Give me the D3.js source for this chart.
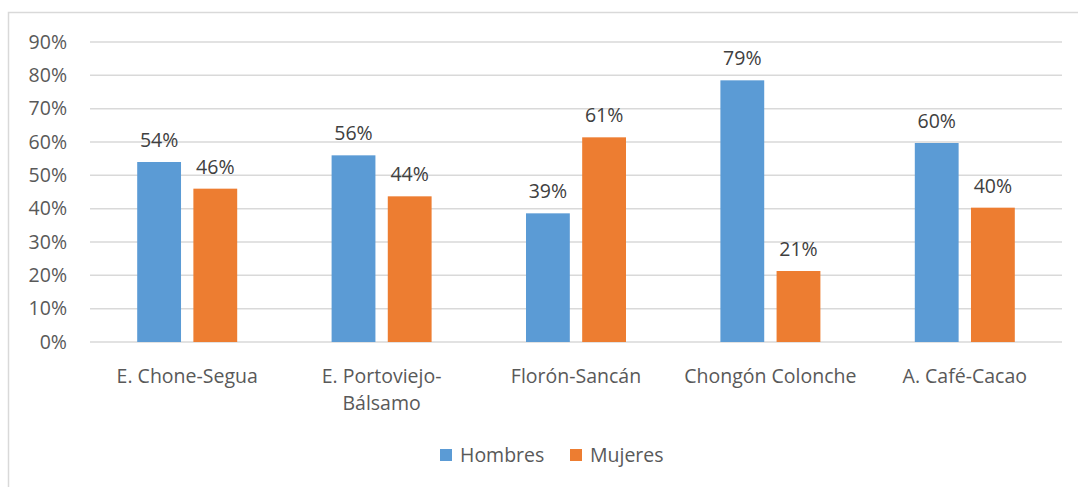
<!DOCTYPE html>
<html><head><meta charset="utf-8">
<script src="https://cdn.jsdelivr.net/npm/d3@7/dist/d3.min.js"></script>
<style>body{margin:0;background:#fff;}svg{display:block;font-family:"Open Sans",Calibri,sans-serif;}</style>
</head><body>
<svg id="c" width="1078" height="487"></svg>
<script>
const categories = [["E. Chone-Segua"],["E. Portoviejo-","Bálsamo"],["Florón-Sancán"],["Chongón Colonche"],["A. Café-Cacao"]];
const seriesNames = ["Hombres","Mujeres"];
const hombres = [0.54, 0.56, 0.386, 0.785, 0.597];
const mujeres = [0.46, 0.437, 0.614, 0.213, 0.403];
const hombresLabels = ["54%","56%","39%","79%","60%"];
const mujeresLabels = ["46%","44%","61%","21%","40%"];
const ticks = [0,0.1,0.2,0.3,0.4,0.5,0.6,0.7,0.8,0.9];
const colors = ["#5b9bd5","#ed7d31"];

(function(){
const FS = 19.5;
const svg = d3.select("#c");
svg.append("rect").attr("x",8.5).attr("y",12.5).attr("width",1100).attr("height",500)
  .attr("fill","#fff").attr("stroke","#d9d9d9").attr("stroke-width",1.5);

const pL=90,pR=1062,pT=42,pB=342;
const y = d3.scaleLinear().domain([0,0.9]).range([pB,pT]);
const x0 = d3.scaleBand().domain(d3.range(categories.length)).range([pL,pR]);
const gw = 100;
const x1 = d3.scaleBand().domain([0,1]).range([0,gw]).paddingInner(0.22);

const g = svg.append("g");
g.selectAll("line.grid").data(ticks).join("line")
  .attr("x1",pL).attr("x2",pR).attr("y1",d=>y(d)).attr("y2",d=>y(d))
  .attr("stroke","#d9d9d9").attr("stroke-width",1.5);

const yAxis = d3.axisLeft(y).tickValues(ticks).tickFormat(d3.format(".0%")).tickSize(0).tickPadding(0);
const ya = svg.append("g").attr("transform","translate(67,0)").call(yAxis);
ya.select(".domain").remove();
ya.selectAll("text").attr("font-size",FS).attr("fill","#595959").attr("font-family","'Open Sans',sans-serif");

const series = [hombres, mujeres];
const labels = [hombresLabels, mujeresLabels];
series.forEach((vals,si)=>{
  const bw = x1.bandwidth();
  const bx = i => x0(i)+x0.bandwidth()/2-gw/2+x1(si);
  g.selectAll("rect.s"+si).data(vals).join("rect")
    .attr("x",(d,i)=>bx(i))
    .attr("y",d=>y(d)).attr("width",bw).attr("height",d=>pB-y(d))
    .attr("fill",colors[si]);
  g.selectAll("text.s"+si).data(vals).join("text")
    .attr("x",(d,i)=>bx(i)+bw/2)
    .attr("y",d=>y(d)-15)
    .attr("text-anchor","middle").attr("font-size",FS).attr("fill","#404040")
    .text((d,i)=>labels[si][i]);
});

const xl = svg.append("g");
categories.forEach((lines,i)=>{
  const t = xl.append("text").attr("text-anchor","middle").attr("font-size",FS).attr("fill","#595959");
  lines.forEach((ln,k)=>t.append("tspan").attr("x",x0(i)+x0.bandwidth()/2).attr("y",383+k*27).text(ln));
});

const legendX=[440,570];
seriesNames.forEach((n,i)=>{
  svg.append("rect").attr("x",legendX[i]).attr("y",449).attr("width",12).attr("height",12).attr("fill",colors[i]);
  svg.append("text").attr("x",legendX[i]+20).attr("y",462).attr("font-size",FS).attr("fill","#595959").text(n);
});
})();
</script>
</body></html>
